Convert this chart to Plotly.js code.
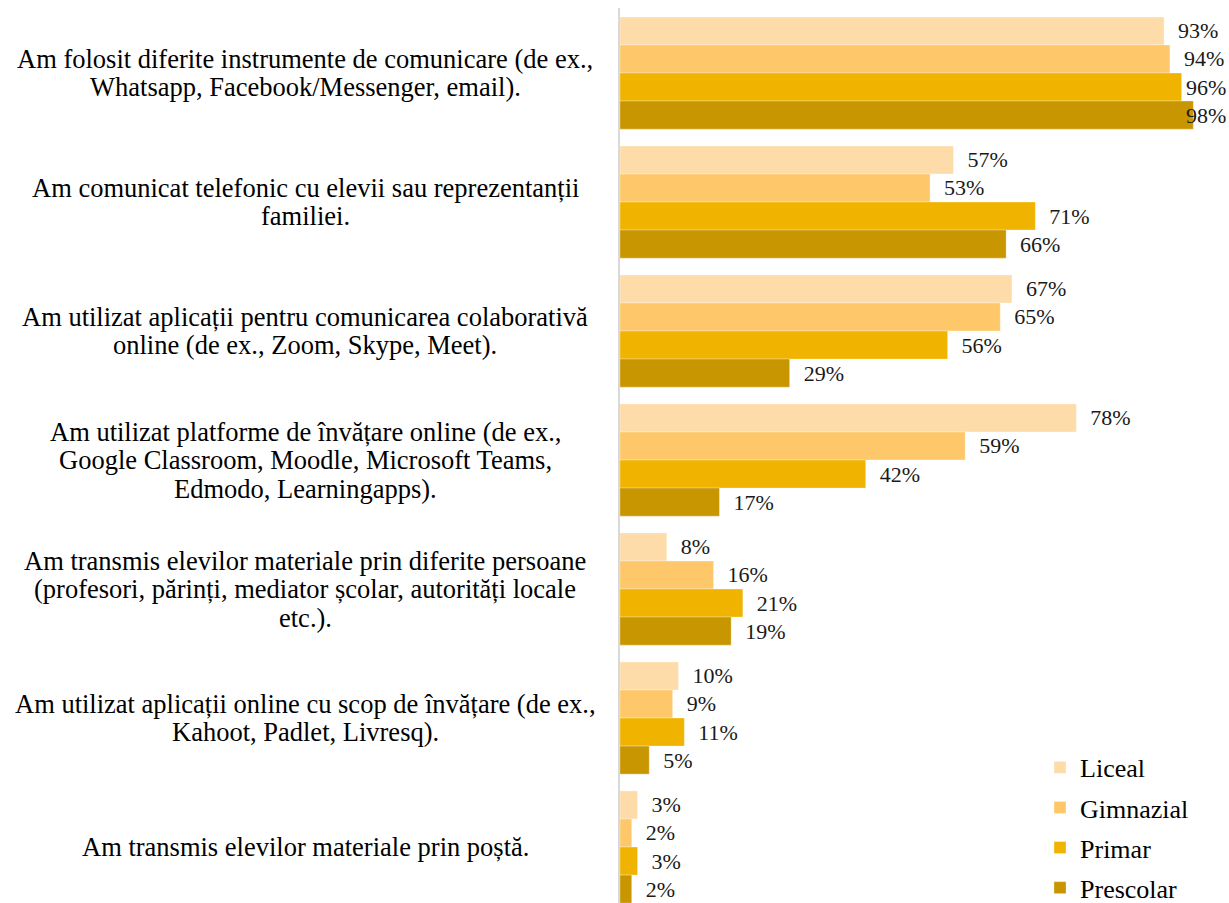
<!DOCTYPE html>
<html>
<head>
<meta charset="utf-8">
<script src="https://cdn.plot.ly/plotly-3.0.1.min.js"></script>
<style>html,body{margin:0;padding:0;background:#fff;}#chart{width:1229px;height:903px;}</style>
</head>
<body>
<div id="chart"></div>
<script>
const categories = [
  "Am folosit diferite instrumente de comunicare (de ex.,<br>Whatsapp, Facebook/Messenger, email).",
  "Am comunicat telefonic cu elevii sau reprezentanții<br>familiei.",
  "Am utilizat aplicații pentru comunicarea colaborativă<br>online (de ex., Zoom, Skype, Meet).",
  "Am utilizat platforme de învățare online (de ex.,<br>Google Classroom, Moodle, Microsoft Teams,<br>Edmodo, Learningapps).",
  "Am transmis elevilor materiale prin diferite persoane<br>(profesori, părinți, mediator școlar, autorități locale<br>etc.).",
  "Am utilizat aplicații online cu scop de învățare (de ex.,<br>Kahoot, Padlet, Livresq).",
  "Am transmis elevilor materiale prin poștă."
];
const seriesNames = ["Liceal", "Gimnazial", "Primar", "Prescolar"];
const liceal    = [93, 57, 67, 78, 8, 10, 3];
const gimnazial = [94, 53, 65, 59, 16, 9, 2];
const primar    = [96, 71, 56, 42, 21, 11, 3];
const prescolar = [98, 66, 29, 17, 19, 5, 2];
const colors = ["#FEDCA9", "#FEC86A", "#F0B400", "#C89600"];

const FONT = "Liberation Serif, Times New Roman, serif";
const W = 1229, H = 903, ML = 620, MT = 8;
const xMax = 104.1;
const yRange = [6.434, -0.504];
const bargap = 0.13;
const labelSize = 22;
const pxPerPct = (W - ML) / xMax;
const pxPerCat = (H - MT) / (yRange[0] - yRange[1]);
const labelNeedPx = 54;

const seriesValues = [liceal, gimnazial, primar, prescolar];
const pad = "\u00a0\u00a0";
const extraAnn = [];
const traces = seriesValues.map((vals, i) => {
  const pos = vals.map((v, j) => {
    const fits = (xMax - v) * pxPerPct >= labelNeedPx;
    if (!fits) {
      extraAnn.push({
        xref: "paper", yref: "y", x: 1, y: categories[j], xanchor: "right", yanchor: "middle",
        xshift: -1,
        yshift: -(i - 1.5) * (1 - bargap) / 4 * pxPerCat,
        text: v + "%", showarrow: false,
        font: {family: FONT, size: labelSize, color: "#1a1a1a"}
      });
    }
    return fits ? "outside" : "none";
  });
  return {
    type: "bar",
    orientation: "h",
    name: seriesNames[i],
    legendgroup: "g" + i,
    x: vals,
    y: categories,
    marker: {color: colors[i], line: {color: "rgba(255,255,255,0.6)", width: 0.5}},
    text: vals.map(v => pad + v + "%"),
    textposition: pos,
    constraintext: "none",
    cliponaxis: false,
    textfont: {family: FONT, size: labelSize, color: "#1a1a1a"},
    hoverinfo: "x+name"
  };
});

const annotations = [];
categories.forEach(c => {
  const lines = c.split("<br>");
  const n = lines.length;
  lines.forEach((ln, k) => {
    annotations.push({
      xref: "paper", yref: "y", x: 0, y: c,
      xanchor: "center", yanchor: "middle",
      xshift: -24 - 291,
      yshift: ((n - 1) / 2 - k) * 28.5,
      text: ln, showarrow: false,
      font: {family: FONT, size: 26.5, color: "#000"}
    });
  });
});

const layout = {
  width: W, height: H,
  margin: {l: ML, r: 0, t: MT, b: 0, autoexpand: false},
  paper_bgcolor: "#fff", plot_bgcolor: "#fff",
  barmode: "group", bargap: bargap, bargroupgap: 0,
  showlegend: true,
  legend: {
    x: 0.6897, xanchor: "left", y: -0.010, yanchor: "bottom",
    font: {family: FONT, size: 26, color: "#000"},
    traceorder: "grouped", tracegroupgap: 3.3, bgcolor: "rgba(255,255,255,0)"
  },
  xaxis: {range: [0, xMax], showgrid: false, zeroline: false, showticklabels: false, showline: false, fixedrange: true},
  yaxis: {type: "category", range: yRange, showgrid: false, zeroline: false, showticklabels: false,
          showline: true, linecolor: "#d9d9d9", linewidth: 2, ticks: "", fixedrange: true},
  annotations: annotations.concat(extraAnn)
};
Plotly.newPlot("chart", traces, layout, {displayModeBar: false, staticPlot: true});
</script>
</body>
</html>
